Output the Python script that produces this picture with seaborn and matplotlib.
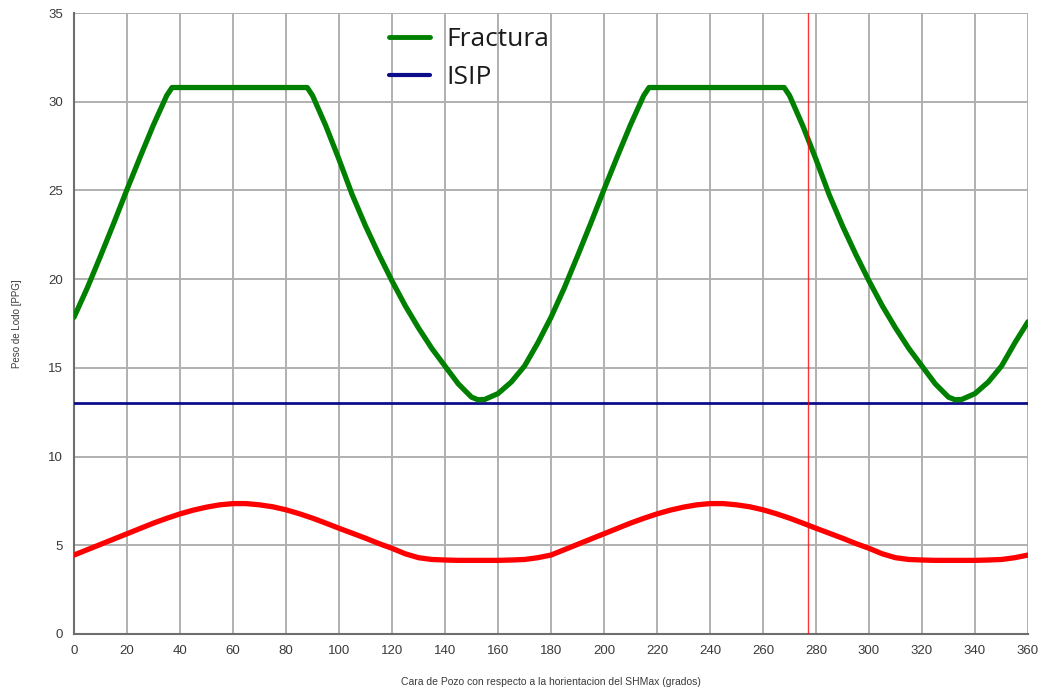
import matplotlib
matplotlib.use("Agg")
import matplotlib.pyplot as plt
import seaborn as sns
import pandas as pd
from matplotlib.lines import Line2D

# ---- data ----
frac_angle = [0, 5, 10, 15, 20, 25, 30, 35, 37, 88, 90, 95, 100, 105, 110, 115, 120, 125,
              130, 135, 140, 145, 150, 152.5, 155, 160, 165, 170, 175,
              180, 185, 190, 195, 200, 205, 210, 215, 217, 268, 270, 275, 280, 285, 290, 295, 300, 305,
              310, 315, 320, 325, 330, 332.5, 335, 340, 345, 350, 355, 360]
frac_value = [17.85, 19.5, 21.3, 23.15, 25.05, 26.9, 28.7, 30.35, 30.8, 30.8, 30.35, 28.65, 26.75, 24.75, 23.0, 21.4, 19.9, 18.5,
              17.25, 16.1, 15.1, 14.1, 13.35, 13.2, 13.22, 13.55, 14.2, 15.1, 16.4,
              17.85, 19.5, 21.3, 23.15, 25.05, 26.9, 28.7, 30.35, 30.8, 30.8, 30.35, 28.65, 26.75, 24.75, 23.0, 21.4, 19.9, 18.5,
              17.25, 16.1, 15.1, 14.1, 13.35, 13.2, 13.22, 13.55, 14.2, 15.1, 16.4, 17.6]

col_angle = [0, 5, 10, 15, 20, 25, 30, 35, 40, 45, 50, 55, 60, 65, 70, 75, 80, 85, 90,
             95, 100, 105, 110, 115, 120, 125, 130, 135, 140, 145, 150, 155, 160, 165, 170, 175,
             180, 185, 190, 195, 200, 205, 210, 215, 220, 225, 230, 235, 240, 245, 250, 255, 260, 265, 270,
             275, 280, 285, 290, 295, 300, 305, 310, 315, 320, 325, 330, 335, 340, 345, 350, 355, 360]
col_value = [4.45, 4.75, 5.05, 5.35, 5.65, 5.95, 6.25, 6.52, 6.77, 6.98, 7.15, 7.28, 7.35, 7.35, 7.28, 7.17, 7.0, 6.78, 6.53,
             6.25, 5.96, 5.68, 5.4, 5.1, 4.83, 4.52, 4.3, 4.2, 4.17, 4.15, 4.15, 4.15, 4.15, 4.17, 4.2, 4.3,
             4.45, 4.75, 5.05, 5.35, 5.65, 5.95, 6.25, 6.52, 6.77, 6.98, 7.15, 7.28, 7.35, 7.35, 7.28, 7.17, 7.0, 6.78, 6.53,
             6.25, 5.96, 5.68, 5.4, 5.1, 4.83, 4.52, 4.3, 4.2, 4.17, 4.15, 4.15, 4.15, 4.15, 4.17, 4.2, 4.3, 4.45]

isip_angle = [0, 360]
isip_value = [13.0, 13.0]

marker_angle = 277

x_ticks = list(range(0, 361, 20))
y_ticks = list(range(0, 36, 5))

xlabel = "Cara de Pozo con respecto a la horientacion del SHMax (grados)"
ylabel = "Peso de Lodo [PPG]"

# ---- style ----
sns.set_style("white")
plt.rcParams["font.family"] = ["Liberation Sans", "DejaVu Sans"]

fig = plt.figure(figsize=(10.41, 6.87), dpi=100)
ax = fig.add_axes([74 / 1041, 1 - 634 / 687, (1028 - 74) / 1041, (634 - 13) / 687])

green = "#008000"
blue = "#0d0d8c"
red = "#ff0000"

df_f = pd.DataFrame({"angle": frac_angle, "value": frac_value})
df_c = pd.DataFrame({"angle": col_angle, "value": col_value})
df_i = pd.DataFrame({"angle": isip_angle, "value": isip_value})

sns.lineplot(data=df_i, x="angle", y="value", ax=ax, color=blue, linewidth=2.0, zorder=3)
sns.lineplot(data=df_f, x="angle", y="value", ax=ax, color=green, linewidth=3.8, zorder=4)
sns.lineplot(data=df_c, x="angle", y="value", ax=ax, color=red, linewidth=3.8, zorder=4)
ax.axvline(marker_angle, color=red, linewidth=1.0, alpha=0.8, zorder=5)

ax.set_xlim(0, 360)
ax.set_ylim(0, 35)
ax.set_xticks(x_ticks)
ax.set_yticks(y_ticks)
ax.grid(True, color="#b0b0b0", linewidth=1.4)
ax.set_axisbelow(True)

for s in ["top", "right"]:
    ax.spines[s].set_visible(False)
for s in ["left", "bottom"]:
    ax.spines[s].set_color("#6e6e6e")
    ax.spines[s].set_linewidth(1.5)

ax.tick_params(axis="both", direction="out", length=6, width=1.3, color="#555555",
               labelsize=9.5, labelcolor="#3a3a3a", pad=2)

ax.set_xlabel(xlabel, fontsize=7.5, color="#3a3a3a", labelpad=14)
ax.set_ylabel(ylabel, fontsize=7, color="#3a3a3a", labelpad=19)

handles = [Line2D([0], [0], color=green, linewidth=3.5),
           Line2D([0], [0], color=blue, linewidth=3.0)]
leg = ax.legend(handles, ["Fractura", "ISIP"], loc="upper left",
                bbox_to_anchor=(0.305, 1.016), frameon=False,
                prop={"family": "Open Sans", "size": 19}, handlelength=1.55,
                handletextpad=0.65, labelspacing=0.5)
for t in leg.get_texts():
    t.set_color("#1a1a1a")

fig.savefig("out.png", dpi=100)
